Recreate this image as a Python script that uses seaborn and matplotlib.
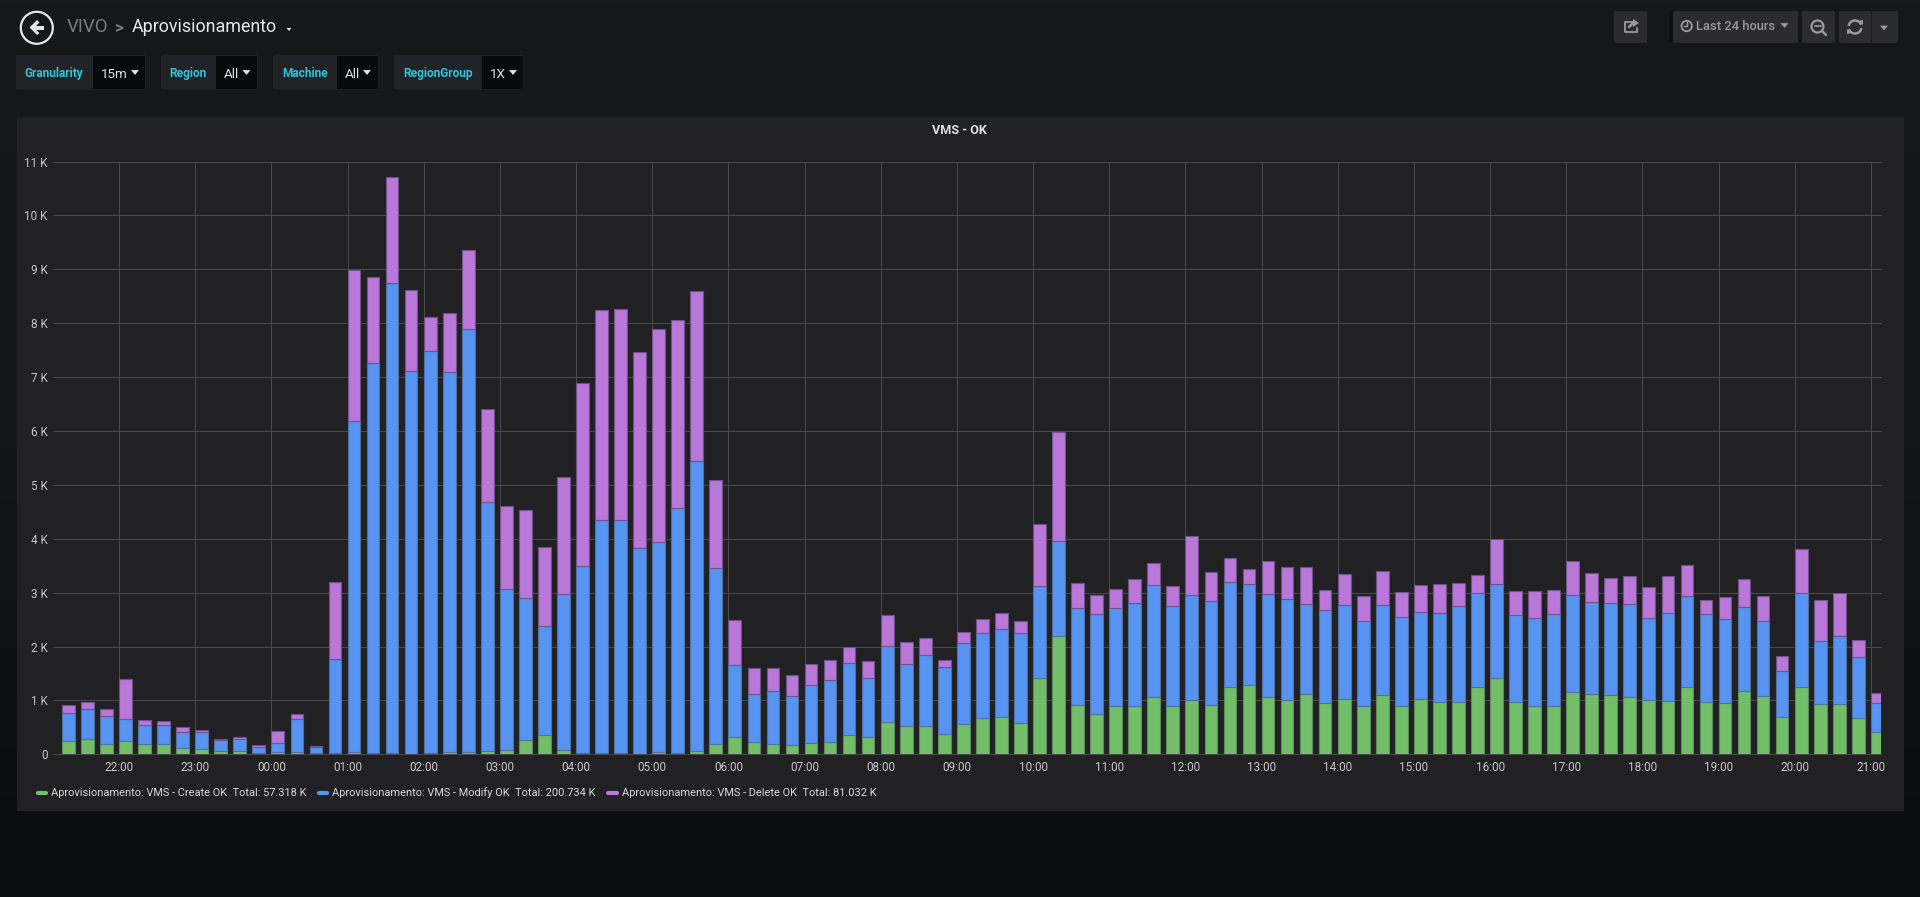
"""Recreate the VMS - OK provisioning dashboard panel as a stacked bar chart."""

from __future__ import annotations

import matplotlib
matplotlib.use("Agg")
import matplotlib.pyplot as plt
import numpy as np
import seaborn as sns
from matplotlib.lines import Line2D
from matplotlib.patches import Arc, Circle, FancyBboxPatch, Polygon, Rectangle

HOUR_LABELS = [
    "22:00", "23:00", "00:00", "01:00", "02:00", "03:00", "04:00", "05:00",
    "06:00", "07:00", "08:00", "09:00", "10:00", "11:00", "12:00", "13:00",
    "14:00", "15:00", "16:00", "17:00", "18:00", "19:00", "20:00", "21:00",
]
Y_LEVELS = [0, 1000, 2000, 3000, 4000, 5000, 6000, 7000, 8000, 9000, 10000, 11000]
Y_LABELS = ["0", "1 K", "2 K", "3 K", "4 K", "5 K", "6 K", "7 K", "8 K", "9 K", "10 K", "11 K"]

# one value per 15 minute bucket, starting at 21:15
CREATE_OK = [
    254, 284, 198, 247, 186, 198, 117, 99, 56, 62, 25, 37, 43, 25, 20,
    43, 31, 25, 12, 25, 37, 49, 56, 87, 272, 359, 80, 25, 25, 25, 12, 43, 25, 62, 192,
    322, 229, 198, 173, 210, 229, 359, 322, 600, 526, 526, 371, 563, 674, 693, 581,
    1422, 2195, 915, 754, 897, 903, 1070, 897, 1014, 915, 1255, 1286, 1064, 1008,
    1113, 959, 1027, 897, 1101, 897, 1027, 971, 971, 1243, 1410, 971, 903, 891,
    1156, 1119, 1101, 1064, 1002, 996, 1249, 971, 952, 1175, 1076, 686, 1249, 934,
    934, 668, 414,
]
MODIFY_OK = [
    506, 563, 519, 402, 364, 352, 291, 309, 204, 228, 117, 173, 617, 115, 1755,
    6143, 7231, 8722, 7102, 7460, 7058, 7845, 4632, 2980, 2628, 2021, 2888, 3463,
    4329, 4315, 3816, 3902, 4551, 5378, 3271, 1342, 890, 977, 915, 1083, 1150, 1341,
    1094, 1410, 1156, 1323, 1249, 1509, 1583, 1638, 1676, 1707, 1757, 1805, 1856,
    1818, 1897, 2070, 1855, 1942, 1923, 1948, 1874, 1911, 1874, 1682, 1725, 1750,
    1583, 1670, 1657, 1614, 1651, 1781, 1757, 1750, 1620, 1633, 1713, 1806, 1701,
    1707, 1731, 1521, 1632, 1695, 1639, 1565, 1565, 1404, 866, 1751, 1175, 1255,
    1138, 545,
]
DELETE_OK = [
    160, 118, 118, 742, 93, 75, 105, 50, 30, 25, 25, 230, 95, 5, 1425,
    2804, 1603, 1963, 1503, 625, 1089, 1466, 1720, 1540, 1633, 1467, 2171, 3412,
    3886, 3930, 3639, 3943, 3484, 3153, 1637, 836, 489, 427, 378, 377, 377, 298,
    322, 575, 408, 315, 136, 204, 260, 285, 223, 1151, 2038, 453, 340, 345, 447,
    416, 377, 1101, 551, 446, 278, 618, 600, 687, 371, 569, 458, 637, 458, 507,
    532, 427, 327, 840, 439, 500, 439, 631, 550, 464, 520, 588, 687, 569, 260,
    408, 513, 464, 272, 816, 748, 798, 309, 173,
]
LEGEND_LABELS = [
    "Aprovisionamento: VMS - Create OK  Total: 57.318 K",
    "Aprovisionamento: VMS - Modify OK  Total: 200.734 K",
    "Aprovisionamento: VMS - Delete OK  Total: 81.032 K",
]

GREEN = "#73BF69"
BLUE = "#5794F2"
PURPLE = "#B877D9"
GREEN_EDGE = "#5f8a5c"
BLUE_EDGE = "#4f6f9f"
PURPLE_EDGE = "#70528a"
PANEL = "#212124"
GRID = "#4a4a4c"
TICK_TEXT = "#c7c7c9"
BUTTON = "#2c2c2f"
BUTTON_TEXT = "#9a9a9c"
CYAN = "#33c3d9"
WIDTH, HEIGHT = 1920, 897


def draw_stack(ax: plt.Axes) -> None:
    create = np.array(CREATE_OK)
    modify = np.array(MODIFY_OK)
    delete = np.array(DELETE_OK)
    bar_width = 2 / 3
    # bars start at their timestamp instead of being centred on it
    centres = np.arange(len(create)) + bar_width / 2
    layers = [
        (create, np.zeros(len(create)), GREEN, GREEN_EDGE),
        (modify, create, BLUE, BLUE_EDGE),
        (delete, create + modify, PURPLE, PURPLE_EDGE),
    ]
    for values, base, colour, edge in layers:
        sns.barplot(
            x=centres, y=values, bottom=base, native_scale=True, width=bar_width,
            color=colour, saturation=1, edgecolor=edge, linewidth=0.8,
            errorbar=None, ax=ax, zorder=3,
        )


def style_axes(ax: plt.Axes) -> None:
    ax.set_xlim(-0.5, len(CREATE_OK) - 0.5)
    ax.set_ylim(0, 11000)
    ax.set_xticks(np.arange(len(HOUR_LABELS)) * 4 + 3, HOUR_LABELS)
    ax.set_yticks(Y_LEVELS, Y_LABELS)
    ax.set_xlabel("")
    ax.set_ylabel("")
    ax.set_axisbelow(True)
    ax.grid(True, color=GRID, linewidth=0.75, clip_on=False)
    ax.tick_params(axis="x", length=0, pad=5, labelsize=8.5, labelcolor=TICK_TEXT)
    ax.tick_params(axis="y", length=0, pad=3.6, labelsize=8.5, labelcolor=TICK_TEXT)
    ax.patch.set_alpha(0)
    sns.despine(ax=ax, left=True, bottom=True)

    handles = [Line2D([], [], color=c, linewidth=3.0, solid_capstyle="round") for c in (GREEN, BLUE, PURPLE)]
    ax.figure.legend(
        handles, LEGEND_LABELS, ncol=3, frameon=False, loc="center left",
        bbox_to_anchor=(37.5 / WIDTH, 1 - 793 / HEIGHT), borderaxespad=0, borderpad=0,
        fontsize=7.95, labelcolor="#d8d8da", handlelength=0.75, handletextpad=0.45,
        columnspacing=1.15,
    )


def caret(ui: plt.Axes, x: float, y: float, size: float, colour: str) -> None:
    ui.add_patch(Polygon([(x - size, y - size * 0.6), (x + size, y - size * 0.6), (x, y + size * 0.6)], color=colour, lw=0))


def box(ui: plt.Axes, x0: float, x1: float, y0: float, y1: float, colour: str) -> None:
    ui.add_patch(FancyBboxPatch(
        (x0 + 2, y0 + 2), x1 - x0 - 4, y1 - y0 - 4,
        boxstyle="round,pad=2,rounding_size=2", color=colour, lw=0,
    ))


def draw_filter(ui, x0, split, x1, label, label_x, value, value_x, caret_x) -> None:
    box(ui, x0, x1, 55, 89.5, "#222327")
    ui.add_patch(Rectangle((split, 56), x1 - split - 1, 33, color="#08090b", lw=0))
    ui.text(label_x, 77, label, color=CYAN, fontsize=8.6, fontweight="bold", va="baseline")
    ui.text(value_x, 78, value, color="#e4e4e6", fontsize=9.6, va="baseline")
    caret(ui, caret_x, 72.5, 4, "#e4e4e6")


def draw_chrome(ui: plt.Axes) -> None:
    ui.set_xlim(0, WIDTH)
    ui.set_ylim(HEIGHT, 0)
    ui.axis("off")
    gradient = np.linspace(0, 1, 256).reshape(-1, 1)
    cmap = matplotlib.colors.LinearSegmentedColormap.from_list("page", ["#17181a", "#141517", "#0b0c0e"])
    ui.imshow(gradient, extent=(0, WIDTH, HEIGHT, 0), aspect="auto", cmap=cmap, zorder=0)
    ui.add_patch(Rectangle((17, 117), 1887, 694, color=PANEL, lw=0, zorder=1))

    # back button and breadcrumb
    ui.add_patch(Circle((36.8, 27.8), 16, fill=False, edgecolor="#e6e6e6", lw=1.6))
    ui.add_patch(Polygon(
        [(29.5, 27.5), (37, 20), (39.5, 22.5), (36, 26), (44, 26), (44, 30), (36, 30), (39.5, 33), (37, 35)],
        color="#e6e6e6", lw=0,
    ))
    ui.text(67, 27.5, "VIVO", color="#7b7b7d", fontsize=13.4, va="center")
    ui.text(114.5, 27.5, ">", color="#7b7b7d", fontsize=12.5, fontweight="bold", va="center")
    ui.text(132, 27.5, "Aprovisionamento", color="#e8e8ea", fontsize=12.9, va="center")
    caret(ui, 289, 29.5, 2.6, "#d8d8da")

    draw_filter(ui, 16, 93, 146, "Granularity", 24.5, "15m", 101, 135)
    draw_filter(ui, 161, 215.5, 258, "Region", 169.5, "All", 224, 246.5)
    draw_filter(ui, 273, 337, 379, "Machine", 282, "All", 345, 367)
    draw_filter(ui, 394, 481.5, 523.5, "RegionGroup", 403, "1X", 490, 513)

    # toolbar on the right
    box(ui, 1614, 1647, 11, 43, BUTTON)
    ui.add_patch(Rectangle((1669, 11), 4, 32, color="#0e0f10", lw=0))
    box(ui, 1673, 1798, 11, 43, BUTTON)
    box(ui, 1802, 1835, 11, 43, BUTTON)
    box(ui, 1839, 1898, 11, 43, BUTTON)
    ui.add_line(Line2D([1870.7, 1870.7], [11, 43], color="#1d1d1f", lw=0.8))

    ui.add_line(Line2D([1634, 1625, 1625, 1637, 1637], [22.5, 22.5, 32.5, 32.5, 28], color=BUTTON_TEXT, lw=1.3))
    ui.add_patch(Polygon([(1633, 19), (1639, 23), (1633, 27)], color=BUTTON_TEXT, lw=0))
    ui.add_line(Line2D([1629, 1633], [27, 23], color=BUTTON_TEXT, lw=1.8))

    ui.add_patch(Circle((1686.7, 26), 5.2, fill=False, edgecolor=BUTTON_TEXT, lw=1.3))
    ui.add_line(Line2D([1686.7, 1686.7, 1684], [22.5, 26.5, 26.5], color=BUTTON_TEXT, lw=1))
    ui.text(1696.5, 26.5, "Last 24 hours", color=BUTTON_TEXT, fontsize=9.3, fontweight="medium", va="center")
    caret(ui, 1784.5, 25.5, 4, BUTTON_TEXT)

    ui.add_patch(Circle((1817.5, 26.5), 6, fill=False, edgecolor=BUTTON_TEXT, lw=1.6))
    ui.add_line(Line2D([1814.5, 1820.5], [26.5, 26.5], color=BUTTON_TEXT, lw=1.3))
    ui.add_line(Line2D([1822, 1826], [31, 35], color=BUTTON_TEXT, lw=1.8))

    ui.add_patch(Arc((1855, 27), 13, 13, theta1=190, theta2=340, color=BUTTON_TEXT, lw=1.8))
    ui.add_patch(Arc((1855, 27), 13, 13, theta1=10, theta2=160, color=BUTTON_TEXT, lw=1.8))
    ui.add_patch(Polygon([(1858, 21), (1863, 25), (1863, 20)], color=BUTTON_TEXT, lw=0))
    ui.add_patch(Polygon([(1852, 33), (1847, 29), (1847, 34)], color=BUTTON_TEXT, lw=0))
    caret(ui, 1884, 28, 4, BUTTON_TEXT)

    ui.text(959.5, 131, "VMS - OK", color="#e2e2e4", fontsize=9.1, fontweight="bold", ha="center", va="center", zorder=2)


def main() -> None:
    sns.set_theme(style="dark", rc={"figure.facecolor": "#141517", "savefig.facecolor": "#141517"})
    plt.rcParams["font.family"] = ["Roboto", "DejaVu Sans"]

    fig = plt.figure(figsize=(WIDTH / 100, HEIGHT / 100), dpi=100)
    ui = fig.add_axes((0, 0, 1, 1), zorder=0)
    draw_chrome(ui)

    left, right, top, bottom = 52.5, 1880.5, 161.6, 754.3
    ax = fig.add_axes((left / WIDTH, 1 - bottom / HEIGHT, (right - left) / WIDTH, (bottom - top) / HEIGHT), zorder=1)
    draw_stack(ax)
    style_axes(ax)

    fig.savefig("out.png", dpi=100)
    plt.close(fig)


if __name__ == "__main__":
    main()
